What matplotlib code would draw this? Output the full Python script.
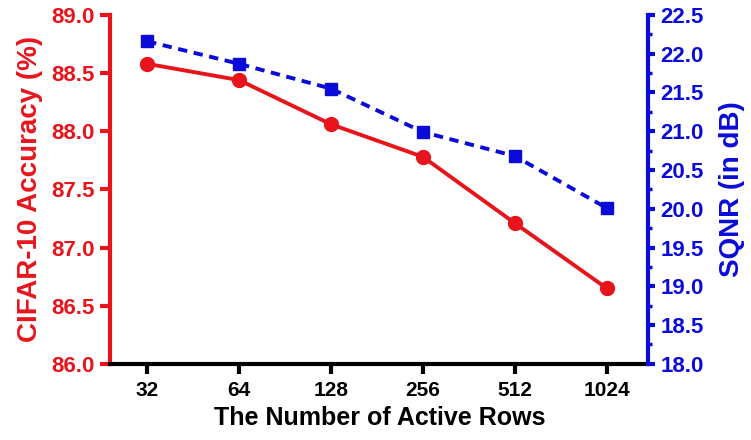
import matplotlib
matplotlib.use('Agg')
import numpy as np
from matplotlib import pyplot as plt
from matplotlib.ticker import MultipleLocator, FormatStrFormatter

plt.rcParams['font.family'] = ['Liberation Sans', 'DejaVu Sans']
plt.rcParams['font.weight'] = 'bold'

rows = ['32', '64', '128', '256', '512', '1024']
accuracy = [88.58, 88.44, 88.06, 87.78, 87.21, 86.65]
sqnr = [22.16, 21.87, 21.55, 20.99, 20.68, 20.01]

RED = '#e8141b'
BLUE = '#0b0bd9'

fig = plt.figure(figsize=(7.51, 4.40), dpi=100)
ax = fig.add_axes([0.147, 0.173, 0.716, 0.793])
ax2 = ax.twinx()

x = np.arange(len(rows))
ax.plot(x, accuracy, color=RED, lw=2.8, marker='o', ms=10, zorder=3)
ax2.plot(x, sqnr, color=BLUE, lw=2.8, ls=(0, (2.4, 1.7)), marker='s', ms=9, zorder=3)

ax.set_xlim(-0.4, 5.45)
ax.set_ylim(86.0, 89.0)
ax2.set_ylim(18.0, 22.5)
ax.set_xticks(x)
ax.set_xticklabels(rows)
ax.yaxis.set_major_locator(MultipleLocator(0.5))
ax2.yaxis.set_major_locator(MultipleLocator(0.5))
ax2.yaxis.set_minor_locator(MultipleLocator(0.25))
ax.yaxis.set_major_formatter(FormatStrFormatter('%.1f'))
ax2.yaxis.set_major_formatter(FormatStrFormatter('%.1f'))

for a in (ax, ax2):
    a.spines['top'].set_visible(False)
    for s in a.spines.values():
        s.set_linewidth(3)
ax.spines['left'].set_color(RED)
ax.spines['bottom'].set_color('black')
ax.spines['right'].set_visible(False)
ax2.spines['left'].set_visible(False)
ax2.spines['bottom'].set_visible(False)
ax2.spines['right'].set_color(BLUE)

ax.tick_params(axis='x', direction='out', length=7, width=3, colors='black', labelsize=15, pad=5)
ax.tick_params(axis='y', direction='out', length=7, width=3, colors=RED, labelsize=16, pad=4)
ax2.tick_params(axis='y', which='major', direction='out', length=5, width=3, colors=BLUE, labelsize=16, pad=4)
ax2.tick_params(axis='y', which='minor', direction='out', length=3, width=2.5, colors=BLUE)
for lbl in ax.get_xticklabels() + ax.get_yticklabels() + ax2.get_yticklabels():
    lbl.set_fontweight('bold')

ax.set_xlabel('The Number of Active Rows', fontsize=18, fontweight='bold', labelpad=5)
ax.set_ylabel('CIFAR-10 Accuracy (%)', fontsize=20, fontweight='bold', color=RED, labelpad=6)
ax2.set_ylabel('SQNR (in dB)', fontsize=20, fontweight='bold', color=BLUE, labelpad=11)

fig.savefig('out.png', dpi=100)
